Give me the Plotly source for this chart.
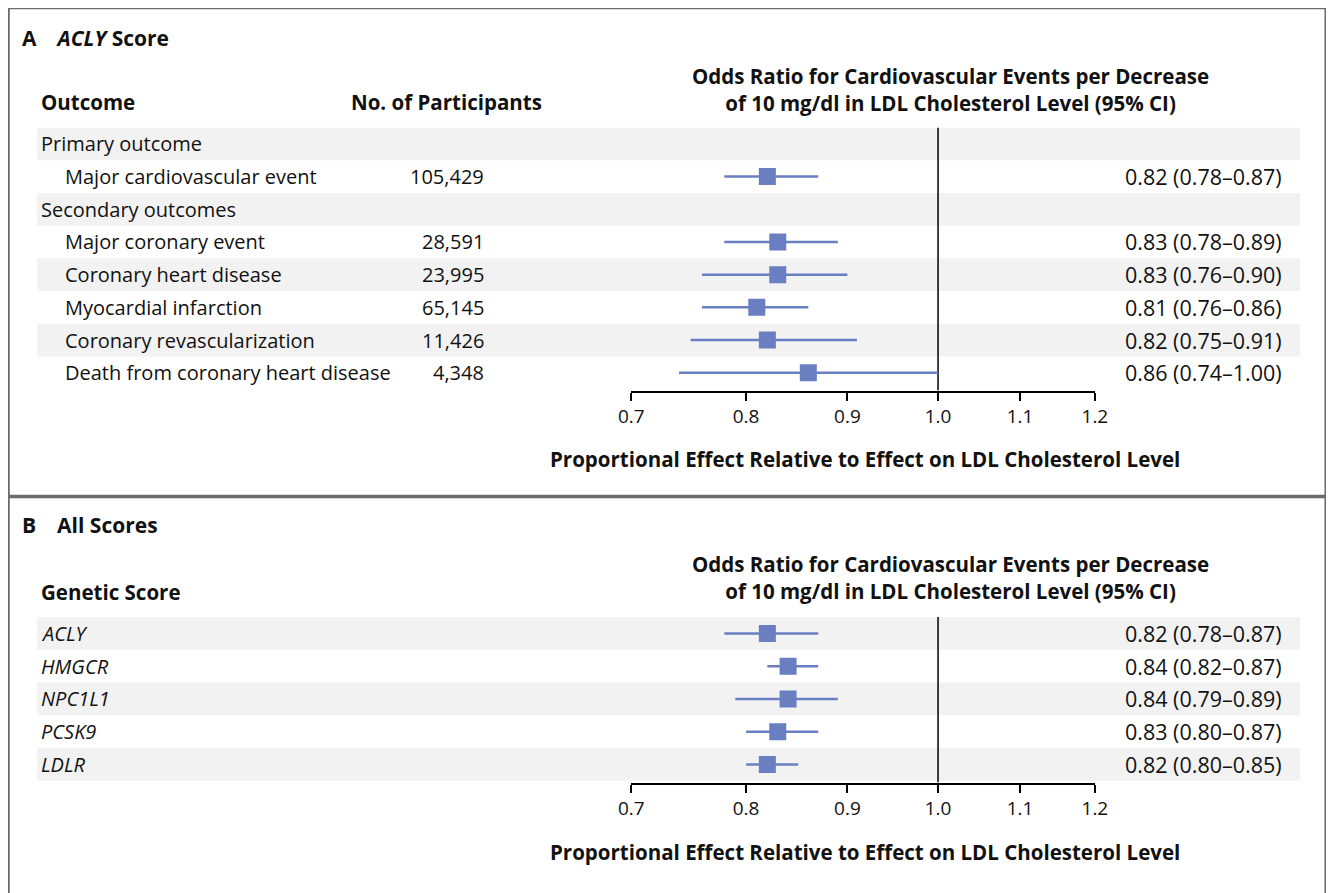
import math
import plotly.graph_objects as go

W, H = 1334, 893

# ---------------- data ----------------
a_labels = ["Primary outcome", "Major cardiovascular event", "Secondary outcomes",
            "Major coronary event", "Coronary heart disease", "Myocardial infarction",
            "Coronary revascularization", "Death from coronary heart disease"]
a_indent = [False, True, False, True, True, True, True, True]
a_participants = ["", "105,429", "", "28,591", "23,995", "65,145", "11,426", "4,348"]
a_or = [None, 0.82, None, 0.83, 0.83, 0.81, 0.82, 0.86]
a_lo = [None, 0.78, None, 0.78, 0.76, 0.76, 0.75, 0.74]
a_hi = [None, 0.87, None, 0.89, 0.90, 0.86, 0.91, 1.00]
a_text = ["", "0.82 (0.78\u20130.87)", "", "0.83 (0.78\u20130.89)", "0.83 (0.76\u20130.90)",
          "0.81 (0.76\u20130.86)", "0.82 (0.75\u20130.91)", "0.86 (0.74\u20131.00)"]

b_labels = ["ACLY", "HMGCR", "NPC1L1", "PCSK9", "LDLR"]
b_or = [0.82, 0.84, 0.84, 0.83, 0.82]
b_lo = [0.78, 0.82, 0.79, 0.80, 0.80]
b_hi = [0.87, 0.87, 0.89, 0.87, 0.85]
b_text = ["0.82 (0.78\u20130.87)", "0.84 (0.82\u20130.87)", "0.84 (0.79\u20130.89)",
          "0.83 (0.80\u20130.87)", "0.82 (0.80\u20130.85)"]

tick_vals = [0.7, 0.8, 0.9, 1.0, 1.1, 1.2]
tick_text = ["0.7", "0.8", "0.9", "1.0", "1.1", "1.2"]

# ---------------- style ----------------
FONT = "Open Sans"
BLUE = "#6A7EC2"
BAND = "#F2F2F2"
FRAME = "#6C6C6C"
FS = 20
HFS = 20.5
RFS = 21.5

# page-pixel -> paper coordinate (compensates for page offset/scaling seen in render)
SX, OX, OY = 0.9826, 20.0, 7.5


def px(x):
    return (x - OX) / SX / W


def py(y):
    return 1 - (y - OY) / H


# log axis placement: 1.0 at ~939 px, ~862 px per natural-log unit
X_ONE, X_SCALE = 939.0, 862.0
X_LO, X_HI = 0.7, 1.2
AX_L = X_ONE + X_SCALE * math.log(X_LO)
AX_R = X_ONE + X_SCALE * math.log(X_HI)

fig = go.Figure()

a_idx = [i for i, v in enumerate(a_or) if v is not None]
fig.add_trace(go.Scatter(
    x=[a_or[i] for i in a_idx], y=a_idx, mode="markers",
    marker=dict(symbol="square", size=17, color=BLUE),
    error_x=dict(type="data", symmetric=False,
                 array=[a_hi[i] - a_or[i] for i in a_idx],
                 arrayminus=[a_or[i] - a_lo[i] for i in a_idx],
                 color=BLUE, thickness=2.5, width=0),
    xaxis="x", yaxis="y", showlegend=False, hoverinfo="skip"))

fig.add_trace(go.Scatter(
    x=b_or, y=list(range(len(b_or))), mode="markers",
    marker=dict(symbol="square", size=17, color=BLUE),
    error_x=dict(type="data", symmetric=False,
                 array=[h - o for h, o in zip(b_hi, b_or)],
                 arrayminus=[o - l for o, l in zip(b_or, b_lo)],
                 color=BLUE, thickness=2.5, width=0),
    xaxis="x2", yaxis="y2", showlegend=False, hoverinfo="skip"))

xa_common = dict(type="log", range=[math.log10(X_LO), math.log10(X_HI)],
                 tickvals=tick_vals, ticktext=tick_text, showgrid=False,
                 zeroline=False, showline=True, linecolor="black", linewidth=2,
                 ticks="outside", ticklen=8, tickwidth=1.5, tickcolor="black",
                 tickfont=dict(family=FONT, size=19, color="#111"))

A_TOP, A_BOT = 127, 390
B_TOP, B_BOT = 616.6, 782
a_rng_bot = (A_BOT - A_TOP) / 32.7 - 0.5
b_rng_bot = (B_BOT - B_TOP) / 32.75 - 0.5

fig.update_layout(
    width=W, height=H, margin=dict(l=0, r=0, t=0, b=0),
    paper_bgcolor="white", plot_bgcolor="rgba(0,0,0,0)",
    xaxis=dict(domain=[px(AX_L), px(AX_R)], anchor="y", **xa_common),
    yaxis=dict(domain=[py(A_BOT), py(A_TOP)], range=[a_rng_bot, -0.5], visible=False),
    xaxis2=dict(domain=[px(AX_L), px(AX_R)], anchor="y2", **xa_common),
    yaxis2=dict(domain=[py(B_BOT), py(B_TOP)], range=[b_rng_bot, -0.5], visible=False),
)

shapes = []
for i in range(len(a_labels)):
    if i % 2 == 0:
        shapes.append(dict(type="rect", xref="paper", yref="y", x0=px(36), x1=px(1302),
                           y0=i - 0.5, y1=i + 0.5, fillcolor=BAND, line=dict(width=0), layer="below"))
for i in range(len(b_labels)):
    if i % 2 == 0:
        shapes.append(dict(type="rect", xref="paper", yref="y2", x0=px(36), x1=px(1302),
                           y0=i - 0.5, y1=i + 0.5, fillcolor=BAND, line=dict(width=0), layer="below"))
shapes.append(dict(type="line", xref="x", yref="y", x0=1, x1=1, y0=-0.5, y1=a_rng_bot,
                   line=dict(color="black", width=1.5), layer="below"))
shapes.append(dict(type="line", xref="x2", yref="y2", x0=1, x1=1, y0=-0.5, y1=b_rng_bot,
                   line=dict(color="black", width=1.5), layer="below"))
for x0, y0, x1, y1 in [(6, 7, 1329, 7), (7, 6, 7, 920), (1328, 6, 1328, 920), (6, 496, 1329, 496)]:
    shapes.append(dict(type="line", xref="paper", yref="paper", x0=px(x0), x1=px(x1),
                       y0=py(y0), y1=py(y1), line=dict(color=FRAME, width=3.5)))
fig.update_layout(shapes=shapes)

ann = []


def add_text(text, x, y, xanchor="left", yref="paper", size=FS, align="left"):
    if xanchor == "left":
        x -= 3
    elif xanchor == "right":
        x += 3
    ann.append(dict(text=text, x=px(x), y=(py(y) if yref == "paper" else y), xref="paper",
                    yref=yref, xanchor=xanchor, yanchor="middle", showarrow=False, align=align,
                    font=dict(family=FONT, size=size, color="#111")))


HDR = ("<b>Odds Ratio for Cardiovascular Events per Decrease<br>"
       "of 10 mg/dl in LDL Cholesterol Level (95% CI)</b>")
XT = "<b>Proportional Effect Relative to Effect on LDL Cholesterol Level</b>"

# panel A
add_text("<b>A</b>\u2002\u2002<b><i>ACLY</i> Score</b>", 22, 38, size=21)
add_text("<b>Outcome</b>", 41, 101, size=HFS)
add_text("<b>No. of Participants</b>", 352, 101, size=HFS)
add_text(HDR, 951, 89, xanchor="center", size=HFS, align="center")
for i, lab in enumerate(a_labels):
    add_text(lab, 65 if a_indent[i] else 41, i, yref="y")
    if a_participants[i]:
        add_text(a_participants[i], 483, i, xanchor="right", yref="y")
    if a_text[i]:
        add_text(a_text[i], 1283, i, xanchor="right", yref="y", size=RFS)
add_text(XT, 866, 458, xanchor="center", size=HFS)

# panel B
add_text("<b>B</b>\u2002\u2002<b>All Scores</b>", 22, 524, size=21)
add_text("<b>Genetic Score</b>", 41, 591, size=HFS)
add_text(HDR, 951, 577, xanchor="center", size=HFS, align="center")
for i, lab in enumerate(b_labels):
    add_text("<i>" + lab + "</i>", 41, i, yref="y2")
    add_text(b_text[i], 1283, i, xanchor="right", yref="y2", size=RFS)
add_text(XT, 866, 851, xanchor="center", size=HFS)

fig.update_layout(annotations=ann)
fig.write_html("out.html")
